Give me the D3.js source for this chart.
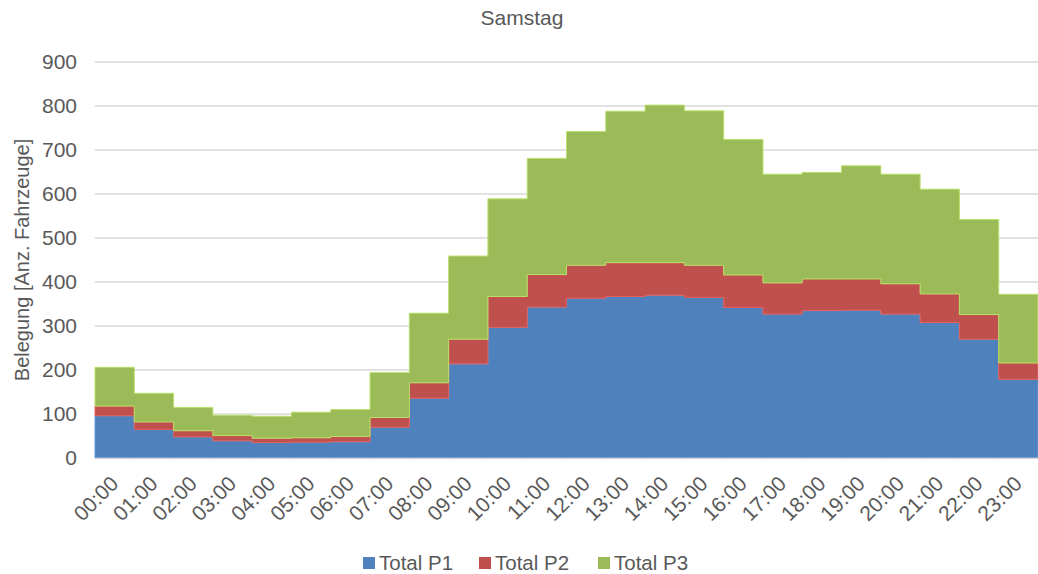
<!DOCTYPE html>
<html lang="de">
<head>
<meta charset="UTF-8">
<title>Samstag</title>
<script src="https://cdn.jsdelivr.net/npm/d3@7"></script>
<style>
    body { margin: 0; background: #fff; font-family: "Liberation Sans", Arial, sans-serif; }
    text { fill: #595959; }
    .grid line { stroke: #d9d9d9; stroke-width: 1.3; }
</style>
</head>
<body>
<svg width="1038" height="574"></svg>
<script>
// Stunden des Tages
const hours = ["00:00","01:00","02:00","03:00","04:00","05:00","06:00","07:00","08:00","09:00","10:00","11:00",
               "12:00","13:00","14:00","15:00","16:00","17:00","18:00","19:00","20:00","21:00","22:00","23:00"];
const seriesNames = ["Total P1", "Total P2", "Total P3"];
const p1 = [96, 65, 48, 39, 35, 36, 37, 70, 136, 214, 297, 343, 363, 367, 370, 365, 342, 327, 335, 336, 327, 308, 270, 179];
const p2 = [22, 17, 14, 12, 10, 10, 12, 22, 35, 56, 70, 74, 75, 77, 74, 73, 74, 71, 72, 71, 69, 65, 56, 37];
const p3 = [88, 65, 53, 46, 50, 58, 61, 102, 158, 189, 222, 264, 304, 344, 358, 351, 308, 247, 242, 257, 249, 238, 216, 156];
const yTicks = [0, 100, 200, 300, 400, 500, 600, 700, 800, 900];
const colors = ["#4f81bd", "#c0504d", "#9bbb59"];

const margin = {top: 62, right: 0, bottom: 116, left: 95},
      width = 1038 - margin.left - margin.right,
      height = 574 - margin.top - margin.bottom;

const svg = d3.select("svg");
const g = svg.append("g").attr("transform", `translate(${margin.left},${margin.top})`);

const rows = hours.map((h, i) => ({hour: h, "Total P1": p1[i], "Total P2": p2[i], "Total P3": p3[i]}));
const stack = d3.stack().keys(seriesNames)(rows);

const x = d3.scaleBand().domain(hours).range([0, width]).padding(0);
const y = d3.scaleLinear().domain([0, 900]).range([height, 0]);

// Gitterlinien
g.append("g").attr("class", "grid")
    .selectAll("line").data(yTicks).join("line")
    .attr("x1", 0).attr("x2", width)
    .attr("y1", d => y(d)).attr("y2", d => y(d));

// gestufte Flächen: jede Stunde als flaches Segment über die ganze Bandbreite
const area = d3.area()
    .curve(d3.curveStepAfter)
    .x(d => d.x)
    .y0(d => y(d.y0))
    .y1(d => y(d.y1));

stack.forEach((layer, k) => {
    const pts = layer.map((d, i) => ({x: x(hours[i]), y0: d[0], y1: d[1]}));
    const last = layer[layer.length - 1];
    pts.push({x: width, y0: last[0], y1: last[1]});
    g.append("path")
        .datum(pts)
        .attr("fill", colors[k])
        .attr("stroke", d3.color(colors[k]).brighter(0.5))
        .attr("stroke-width", 1)
        .attr("d", area);
});

// y-Achse
g.append("g")
    .call(d3.axisLeft(y).tickValues(yTicks).tickSize(0).tickPadding(18))
    .call(a => a.select(".domain").remove())
    .selectAll("text")
    .style("font-size", "21px")
    .style("font-family", "Liberation Sans, Arial, sans-serif");

// x-Achse mit gedrehten Beschriftungen
g.append("g")
    .attr("transform", `translate(0,${height})`)
    .call(d3.axisBottom(x).tickSize(0).tickPadding(0))
    .call(a => a.select(".domain").attr("stroke", "#d9d9d9").attr("stroke-width", 1.3))
    .selectAll("text")
    .style("font-size", "21px")
    .style("font-family", "Liberation Sans, Arial, sans-serif")
    .attr("text-anchor", "end")
    .attr("dy", null)
    .attr("transform", "translate(5,27) rotate(-45)");

// Titel
svg.append("text")
    .attr("x", 522).attr("y", 25)
    .attr("text-anchor", "middle")
    .style("font-size", "21px")
    .text("Samstag");

// y-Achsentitel
svg.append("text")
    .attr("transform", `translate(29,${margin.top + height / 2}) rotate(-90)`)
    .attr("text-anchor", "middle")
    .style("font-size", "20px")
    .text("Belegung [Anz. Fahrzeuge]");

// Legende
const legendX = [363, 479, 598];
const legend = svg.append("g").selectAll("g").data(seriesNames).join("g")
    .attr("transform", (d, i) => `translate(${legendX[i]},557)`);
legend.append("rect").attr("width", 12).attr("height", 12).attr("fill", (d, i) => colors[i]);
legend.append("text").attr("x", 16).attr("y", 13).style("font-size", "20.5px").text(d => d);
</script>
</body>
</html>
